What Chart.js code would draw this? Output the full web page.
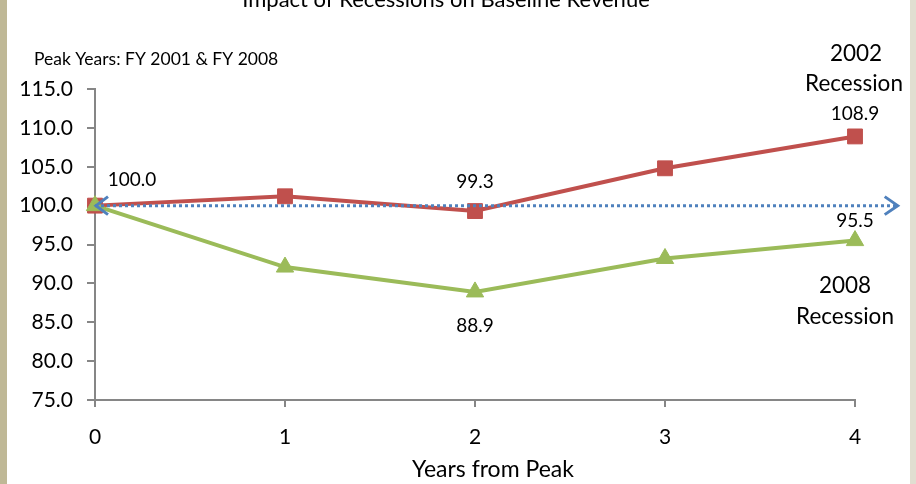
<!DOCTYPE html>
<html><head><meta charset="utf-8">
<script src="https://cdn.jsdelivr.net/npm/chart.js@4.4.1/dist/chart.umd.min.js"></script>
<style>html,body{margin:0;padding:0;background:#fff;overflow:hidden}#wrap{position:relative;width:916px;height:484px}</style>
</head><body><div id="wrap"><canvas id="c" width="916" height="484"></canvas></div>
<script>
// ---- data ----
const years = [0, 1, 2, 3, 4];
const rec2002 = [100.0, 101.2, 99.3, 104.8, 108.9];
const rec2008 = [100.0, 92.1, 88.9, 93.2, 95.5];
const baselineX = [0, 4.23];
const baselineY = [100, 100];
const yTicks = [75, 80, 85, 90, 95, 100, 105, 110, 115];
const xTicks = [0, 1, 2, 3, 4];
const chartTitle = 'Impact of Recessions on Baseline Revenue';
const subTitle = 'Peak Years: FY 2001 & FY 2008';
const xTitle = 'Years from Peak';
const label2002 = ['2002', 'Recession'];
const label2008 = ['2008', 'Recession'];
const valueLabels2002 = [0, 2, 4];   // indices labelled
const valueLabels2008 = [2, 4];

const FONT = 'Lato, "Open Sans", sans-serif';
const RED = '#C0504D', GREEN = '#9BBB59', BLUE = '#4F81BD', AXIS = '#868686';

const pts = (xs, ys) => xs.map((x, i) => ({x, y: ys[i]}));

const decor = {
  id: 'decor',
  beforeDraw(chart) {
    const c = chart.ctx;
    c.save();
    c.fillStyle = '#fff'; c.fillRect(0, 0, chart.width, chart.height);
    c.fillStyle = '#BFB896'; c.fillRect(0, 0, 7, chart.height);
    c.fillStyle = '#E1DED1'; c.fillRect(910, 0, 6, chart.height);
    c.restore();
  },
  afterDatasetsDraw(chart) {
    const c = chart.ctx;
    const xs = chart.scales.x, ys = chart.scales.y;
    // arrowheads on baseline
    const bm = chart.getDatasetMeta(0).data;
    c.save();
    c.strokeStyle = BLUE; c.lineWidth = 3; c.lineCap = 'butt'; c.lineJoin = 'miter';
    const a0 = bm[0], a1 = bm[bm.length - 1];
    c.beginPath();
    c.moveTo(a0.x + 13, a0.y - 9); c.lineTo(a0.x + 1, a0.y); c.lineTo(a0.x + 13, a0.y + 9);
    c.stroke();
    c.beginPath();
    c.moveTo(a1.x - 14, a1.y - 9); c.lineTo(a1.x - 1, a1.y); c.lineTo(a1.x - 14, a1.y + 9);
    c.stroke();
    c.restore();

    c.save();
    c.fillStyle = '#000';
    // value labels
    c.font = '19px ' + FONT; c.textAlign = 'center'; c.textBaseline = 'middle';
    const off2002 = {0: [37, -26], 2: [0, -29], 4: [0, -23]};
    const off2008 = {2: [0, 34], 4: [0, -20]};
    valueLabels2002.forEach(i => {
      const px = xs.getPixelForValue(years[i]), py = ys.getPixelForValue(rec2002[i]);
      c.fillText(rec2002[i].toFixed(1), px + off2002[i][0], py + off2002[i][1]);
    });
    valueLabels2008.forEach(i => {
      const px = xs.getPixelForValue(years[i]), py = ys.getPixelForValue(rec2008[i]);
      c.fillText(rec2008[i].toFixed(1), px + off2008[i][0], py + off2008[i][1]);
    });
    // series labels
    c.font = '22.5px ' + FONT;
    c.fillText(label2002[0], 856, 54);
    c.fillText(label2002[1], 854, 84);
    c.fillText(label2008[0], 845, 286);
    c.fillText(label2008[1], 845, 317);
    // x axis title
    c.font = '23px ' + FONT;
    c.fillText(xTitle, 493, 470);
    // title
    c.font = '22px ' + FONT; c.textBaseline = 'alphabetic';
    c.fillText(chartTitle, 446, 7);
    // subtitle
    c.font = '17.5px ' + FONT; c.textAlign = 'left';
    c.fillText(subTitle, 34, 65);
    c.restore();
  }
};

new Chart(document.getElementById('c'), {
  type: 'line',
  data: {
    datasets: [
      { data: pts(baselineX, baselineY), borderColor: BLUE, borderWidth: 3, borderDash: [3, 3],
        pointRadius: 0, clip: false, fill: false },
      { data: pts(years, rec2008), borderColor: GREEN, backgroundColor: GREEN, borderWidth: 4,
        pointStyle: 'triangle', pointRadius: 10, pointBorderWidth: 1, pointBackgroundColor: GREEN,
        pointBorderColor: GREEN, clip: false, fill: false },
      { data: pts(years, rec2002), borderColor: RED, backgroundColor: RED, borderWidth: 4,
        pointStyle: 'rect', pointRadius: 10.5, pointBorderWidth: 1, pointBackgroundColor: RED,
        pointBorderColor: RED, clip: false, fill: false }
    ]
  },
  options: {
    responsive: false, animation: false, events: [],
    layout: { padding: { left: 0, top: 89, right: 61, bottom: 0 } },
    plugins: { legend: { display: false }, tooltip: { enabled: false }, title: { display: false } },
    scales: {
      x: {
        type: 'linear', min: 0, max: 4,
        afterBuildTicks: s => { s.ticks = xTicks.map(v => ({value: v})); },
        afterFit: s => { s.height = 84; },
        ticks: { font: { family: FONT, size: 21 }, color: '#000', padding: 18, autoSkip: false, maxRotation: 0 },
        grid: { drawOnChartArea: false, drawTicks: true, tickLength: 7, color: AXIS, lineWidth: 2 },
        border: { color: AXIS, width: 2 },
        title: { display: false }
      },
      y: {
        min: 75, max: 115,
        afterBuildTicks: s => { s.ticks = yTicks.map(v => ({value: v})); },
        afterFit: s => { s.width = 95; },
        ticks: { font: { family: FONT, size: 21 }, color: '#000', padding: 14, callback: v => v.toFixed(1) },
        grid: { drawOnChartArea: false, drawTicks: true, tickLength: 8, color: AXIS, lineWidth: 2 },
        border: { color: AXIS, width: 2 }
      }
    }
  },
  plugins: [decor]
});
</script></body></html>
